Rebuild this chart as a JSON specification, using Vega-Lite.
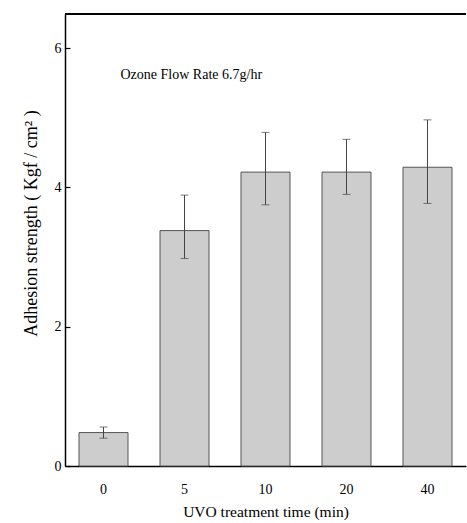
{
  "$schema": "https://vega.github.io/schema/vega-lite/v6.json",
  "width": 401,
  "height": 452,
  "autosize": {"type": "none"},
  "padding": {"left": 65, "top": 14, "right": 1, "bottom": 57},
  "background": "white",
  "config": {
    "view": {"stroke": null},
    "font": "Liberation Serif, Times New Roman, serif",
    "axis": {"grid": false, "domainColor": "black", "tickColor": "black", "labelColor": "black", "titleColor": "black", "labelFont": "Liberation Serif, Times New Roman, serif", "titleFont": "Liberation Serif, Times New Roman, serif", "titleFontWeight": "normal"}
  },
  "data": {"values": [
    {"t": "0", "v": 0.48, "lo": 0.40, "hi": 0.56},
    {"t": "5", "v": 3.38, "lo": 2.98, "hi": 3.89},
    {"t": "10", "v": 4.22, "lo": 3.75, "hi": 4.79},
    {"t": "20", "v": 4.22, "lo": 3.90, "hi": 4.69},
    {"t": "40", "v": 4.29, "lo": 3.77, "hi": 4.97}
  ]},
  "encoding": {
    "x": {"field": "t", "type": "ordinal", "sort": null,
      "scale": {"paddingInner": 0.395, "paddingOuter": 0.173},
      "axis": {"title": "UVO treatment time (min)", "labelAngle": 0, "ticks": false, "labelPadding": 16, "labelFontSize": 14, "titleFontSize": 15.5, "titlePadding": 8, "domainWidth": 1.5}}
  },
  "layer": [
    {
      "mark": {"type": "bar", "fill": "#cdcdcd", "stroke": "#555555", "strokeWidth": 1},
      "encoding": {
        "y": {"field": "v", "type": "quantitative",
          "scale": {"domain": [0, 6.49], "nice": false},
          "axis": {"title": "Adhesion strength ( Kgf / cm² )", "values": [0, 2, 4, 6], "format": "d", "tickSize": -5, "tickWidth": 1.2, "labelPadding": 9, "labelFontSize": 14, "titleFontSize": 18, "titlePadding": 14, "titleY": 209, "domainWidth": 1.5}}
      }
    },
    {
      "mark": {"type": "rule", "color": "#444444", "strokeWidth": 1},
      "encoding": {"y": {"field": "lo", "type": "quantitative"}, "y2": {"field": "hi"}}
    },
    {
      "mark": {"type": "tick", "color": "#444444", "thickness": 1, "size": 8},
      "encoding": {"y": {"field": "hi", "type": "quantitative"}}
    },
    {
      "mark": {"type": "tick", "color": "#444444", "thickness": 1, "size": 8},
      "encoding": {"y": {"field": "lo", "type": "quantitative"}}
    },
    {
      "mark": {"type": "rule", "color": "black", "strokeWidth": 1.5},
      "encoding": {"y": {"datum": 6.49}, "x": {"value": 0}, "x2": {"value": 401}}
    },
    {
      "data": {"values": [{"label": "Ozone Flow Rate 6.7g/hr"}]},
      "mark": {"type": "text", "align": "left", "baseline": "middle", "fontSize": 14, "font": "Liberation Serif, Times New Roman, serif", "dx": 17},
      "encoding": {"x": {"datum": "0"}, "y": {"datum": 5.61}, "text": {"field": "label"}}
    }
  ]
}
